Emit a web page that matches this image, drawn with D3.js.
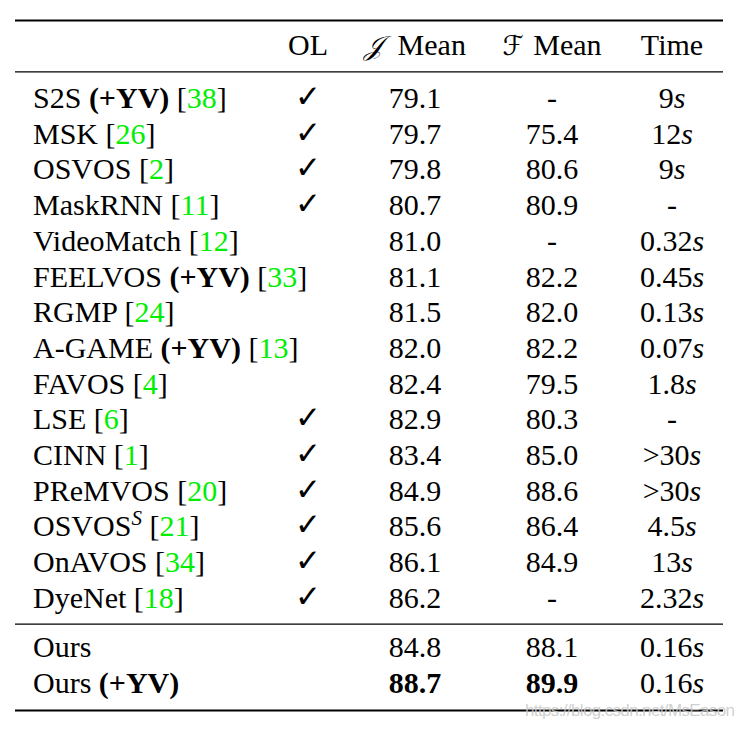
<!DOCTYPE html>
<html>
<head>
<meta charset="utf-8">
<script src="https://cdn.jsdelivr.net/npm/d3@7"></script>
<style>
  html, body { margin: 0; padding: 0; background: #fff; }
  svg { display: block; }
</style>
</head>
<body>
<svg id="chart" width="744" height="729"></svg>
<script>
// ---------- data ----------
const columns = ["OL", "J Mean", "F Mean", "Time"];
const methods = ["S2S", "MSK", "OSVOS", "MaskRNN", "VideoMatch", "FEELVOS", "RGMP", "A-GAME", "FAVOS", "LSE", "CINN", "PReMVOS", "OSVOS", "OnAVOS", "DyeNet", "Ours", "Ours"];
const superscripts = ["", "", "", "", "", "", "", "", "", "", "", "", "S", "", "", "", ""];
const usesYV = [true, false, false, false, false, true, false, true, false, false, false, false, false, false, false, false, true];
const refs = ["38", "26", "2", "11", "12", "33", "24", "13", "4", "6", "1", "20", "21", "34", "18", "", ""];
const online = [true, true, true, true, false, false, false, false, false, true, true, true, true, true, true, false, false];
const jMean = [79.1, 79.7, 79.8, 80.7, 81.0, 81.1, 81.5, 82.0, 82.4, 82.9, 83.4, 84.9, 85.6, 86.1, 86.2, 84.8, 88.7];
const fMean = [null, 75.4, 80.6, 80.9, null, 82.2, 82.0, 82.2, 79.5, 80.3, 85.0, 88.6, 86.4, 84.9, null, 88.1, 89.9];
const timeLabels = ["9", "12", "9", null, "0.32", "0.45", "0.13", "0.07", "1.8", null, ">30", ">30", "4.5", "13", "2.32", "0.16", "0.16"];
const groupOf = [0, 0, 0, 0, 0, 0, 0, 0, 0, 0, 0, 0, 0, 0, 0, 1, 1];
const boldRow = [false, false, false, false, false, false, false, false, false, false, false, false, false, false, false, false, true];
const watermark = "https://blog.csdn.net/MsEason";

// ---------- layout ----------
const svg = d3.select("#chart");
const FONT = "'Liberation Serif', 'Times New Roman', serif";
const FS = 30;
const left = 15, right = 723;
const nameX = 33;

const x = d3.scaleOrdinal().domain(columns).range([308, 415, 552, 672]);

const g0 = methods.map((m, i) => i).filter(i => groupOf[i] === 0);
const g1 = methods.map((m, i) => i).filter(i => groupOf[i] === 1);
const y0 = d3.scaleLinear().domain([0, g0.length - 1]).range([108, 108 + 35.7 * (g0.length - 1)]);
const y1 = d3.scaleLinear().domain([0, g1.length - 1]).range([657, 693]);
const yOf = i => groupOf[i] === 0 ? y0(g0.indexOf(i)) : y1(g1.indexOf(i));

// rules
const rules = [
  {y: 20.5, w: 2.2},
  {y: 71.8, w: 1.3},
  {y: 624.2, w: 1.3},
  {y: 710.5, w: 2.2}
];
svg.selectAll("line.rule").data(rules).join("line")
  .attr("class", "rule")
  .attr("x1", left).attr("x2", right)
  .attr("y1", d => d.y).attr("y2", d => d.y)
  .attr("stroke", "#000").attr("stroke-width", d => d.w);

// header
const headerY = 55;
const header = svg.append("g").attr("font-family", FONT).attr("font-size", FS).attr("fill", "#000");
columns.forEach(c => {
  const t = header.append("text").attr("x", x(c)).attr("y", headerY).attr("text-anchor", "middle");
  if (c === "J Mean" || c === "F Mean") {
    t.append("tspan").text(c === "J Mean" ? "\uD835\uDCA5" : "\u2131")
      .attr("font-family", "'DejaVu Serif', 'DejaVu Sans', serif").attr("font-style", "italic").attr("font-size", 27);
    t.append("tspan").text(" Mean").attr("dx", c === "J Mean" ? 7 : 2);
  } else {
    t.text(c);
  }
});

// body
const body = svg.append("g").attr("font-family", FONT).attr("font-size", FS).attr("fill", "#000");
const rows = body.selectAll("g.row").data(methods.map((m, i) => i)).join("g").attr("class", "row");

// name cells
rows.each(function(i) {
  const t = d3.select(this).append("text").attr("x", nameX).attr("y", yOf(i));
  t.append("tspan").text(methods[i]);
  if (superscripts[i]) {
    t.append("tspan").text(superscripts[i]).attr("font-style", "italic").attr("font-size", 21).attr("dy", -11);
    t.append("tspan").text(" ").attr("dy", 11);
  }
  if (usesYV[i]) {
    t.append("tspan").text(" (+YV)").attr("font-weight", "bold");
  }
  if (refs[i]) {
    t.append("tspan").text(" [");
    t.append("tspan").text(refs[i]).attr("fill", "#00ee00");
    t.append("tspan").text("]");
  }
});

// OL check marks
rows.filter(i => online[i]).append("text")
  .attr("x", x("OL")).attr("y", i => yOf(i) - 1)
  .attr("text-anchor", "middle")
  .attr("font-family", "'DejaVu Sans', sans-serif")
  .attr("font-weight", 200)
  .attr("font-size", 31)
  .text("\u2713");

// J mean
rows.append("text")
  .attr("x", x("J Mean")).attr("y", i => yOf(i))
  .attr("text-anchor", "middle")
  .attr("font-weight", i => boldRow[i] ? "bold" : null)
  .text(i => jMean[i] == null ? "-" : d3.format(".1f")(jMean[i]));

// F mean
rows.append("text")
  .attr("x", x("F Mean")).attr("y", i => yOf(i))
  .attr("text-anchor", "middle")
  .attr("font-weight", i => boldRow[i] ? "bold" : null)
  .text(i => fMean[i] == null ? "-" : d3.format(".1f")(fMean[i]));

// Time
rows.each(function(i) {
  const t = d3.select(this).append("text").attr("x", x("Time")).attr("y", yOf(i)).attr("text-anchor", "middle");
  if (timeLabels[i] == null) { t.text("-"); return; }
  t.append("tspan").text(timeLabels[i]);
  t.append("tspan").text("s").attr("font-style", "italic");
});

// watermark
svg.append("text")
  .attr("x", 525).attr("y", 716)
  .attr("font-family", "'Liberation Sans', Arial, sans-serif")
  .attr("font-size", 17)
  .attr("textLength", 210)
  .attr("fill", "rgba(200,200,200,0.85)")
  .text(watermark);
</script>
</body>
</html>
